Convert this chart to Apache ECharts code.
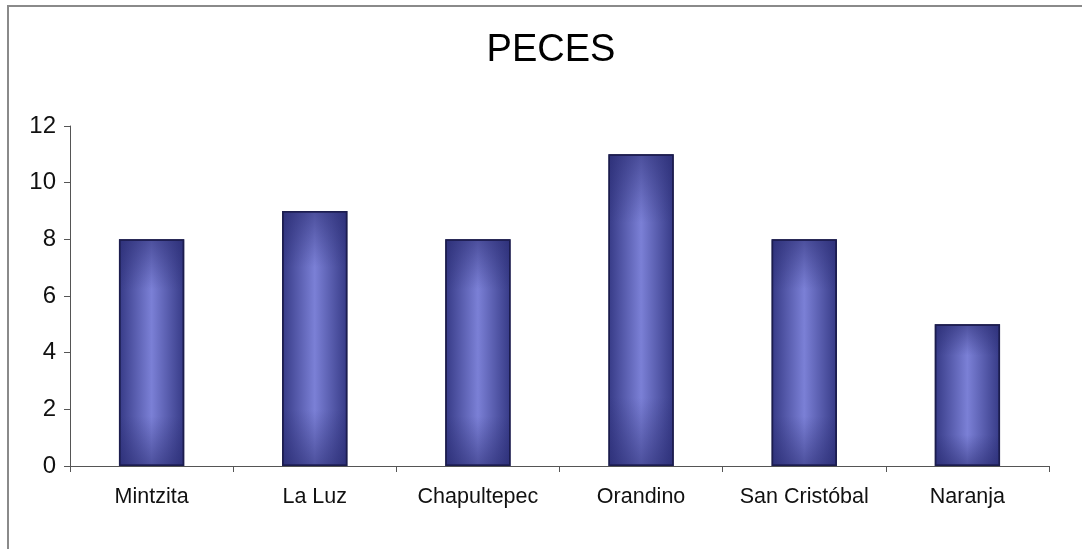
<!DOCTYPE html>
<html>
<head>
<meta charset="utf-8">
<title>PECES</title>
<script src="https://cdn.jsdelivr.net/npm/echarts@6/dist/echarts.min.js"></script>
<style>
  html, body { margin: 0; padding: 0; background: #ffffff; }
  #chart { width: 1082px; height: 549px; }
</style>
</head>
<body>
<div id="chart"></div>
<script>
// Fish counts per site
const titleText = 'PECES';
const sites = ['Mintzita', 'La Luz', 'Chapultepec', 'Orandino', 'San Cristóbal', 'Naranja'];
const fishCounts = [8, 9, 8, 11, 8, 5];
const yTicks = { min: 0, max: 12, interval: 2 };

const FONT = '"Liberation Sans", Arial, Helvetica, sans-serif';

const chart = echarts.init(document.getElementById('chart'), null, { renderer: 'canvas' });

// Bar body: dark edges fading to a lighter blue down the middle
const bodyFill = new echarts.graphic.LinearGradient(0, 0, 1, 0, [
  { offset: 0, color: '#363a86' },
  { offset: 0.5, color: '#7b80d6' },
  { offset: 1, color: '#363a86' }
]);
// Shading that darkens the top and bottom ends of each bar
const endShade = new echarts.graphic.LinearGradient(0, 0, 0, 1, [
  { offset: 0, color: 'rgba(38,40,110,0.55)' },
  { offset: 0.22, color: 'rgba(38,40,110,0)' },
  { offset: 0.78, color: 'rgba(38,40,110,0)' },
  { offset: 1, color: 'rgba(38,40,110,0.55)' }
]);

chart.setOption({
  backgroundColor: '#ffffff',
  animation: false,
  title: {
    text: titleText,
    left: 546,
    textAlign: 'center',
    top: 27,
    textStyle: { fontFamily: FONT, fontSize: 38, fontWeight: 'normal', color: '#000000' }
  },
  graphic: [{
    type: 'rect',
    shape: { x: 8, y: 6, width: 1100, height: 580 },
    style: { fill: null, stroke: '#8a8a8a', lineWidth: 2 },
    silent: true,
    z: -1
  }],
  grid: { left: 70, right: 33, top: 126, bottom: 83 },
  xAxis: {
    type: 'category',
    data: sites,
    axisLine: { lineStyle: { color: '#555555', width: 1 } },
    axisTick: { show: true, alignWithLabel: false, interval: 0, length: 6, lineStyle: { color: '#555555' } },
    axisLabel: { interval: 0, fontFamily: FONT, fontSize: 21.5, color: '#111111', margin: 20 },
    splitLine: { show: false }
  },
  yAxis: {
    type: 'value',
    min: yTicks.min,
    max: yTicks.max,
    interval: yTicks.interval,
    axisLine: { show: true, lineStyle: { color: '#555555', width: 1 } },
    axisTick: { show: true, length: 6, lineStyle: { color: '#555555' } },
    axisLabel: { fontFamily: FONT, fontSize: 24, color: '#111111', margin: 14 },
    splitLine: { show: false }
  },
  series: [
    {
      type: 'bar',
      data: fishCounts,
      barWidth: '40%',
      itemStyle: { color: bodyFill, borderColor: '#1c1d4e', borderWidth: 1.5 }
    },
    {
      type: 'bar',
      data: fishCounts,
      barWidth: '40%',
      barGap: '-100%',
      silent: true,
      itemStyle: { color: endShade, borderColor: '#1c1d4e', borderWidth: 1.5 }
    }
  ]
});
</script>
</body>
</html>
